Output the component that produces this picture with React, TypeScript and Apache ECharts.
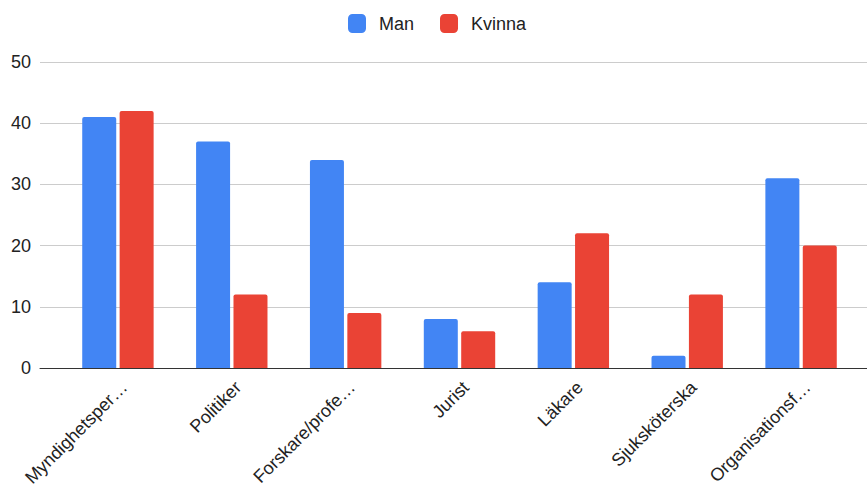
import React, { useEffect, useRef } from "react";
import * as echarts from "echarts";

const categories = [
  "Myndighetsper…",
  "Politiker",
  "Forskare/profe…",
  "Jurist",
  "Läkare",
  "Sjuksköterska",
  "Organisationsf…",
];
const seriesNames = ["Man", "Kvinna"];
const manValues = [41, 37, 34, 8, 14, 2, 31];
const kvinnaValues = [42, 12, 9, 6, 22, 12, 20];
const yTicks = { min: 0, max: 50, interval: 10 };

const FONT = "'Liberation Sans', Arial, sans-serif";

export default function App() {
  const ref = useRef<HTMLDivElement>(null);
  useEffect(() => {
    if (!ref.current) return;
    const chart = echarts.init(ref.current, undefined, { renderer: "svg" });
    const barStyle = (color: string) => ({
      color,
      borderRadius: [2, 2, 0, 0],
    });
    chart.setOption({
      animation: false,
      backgroundColor: "#ffffff",
      textStyle: { fontFamily: FONT },
      legend: {
        data: seriesNames,
        left: 343,
        top: 9,
        itemWidth: 18,
        itemHeight: 19,
        itemGap: 26,
        icon: "roundRect",
        textStyle: { fontSize: 18, color: "#222", fontFamily: FONT, padding: [0, 0, 0, 8] },
      },
      grid: [
        { left: 40, right: 0, top: 62, bottom: 117, outerBoundsMode: "none", containLabel: false },
        { left: 61, right: 9, top: 62, bottom: 117, outerBoundsMode: "none", containLabel: false },
      ],
      xAxis: [
        {
          gridIndex: 0,
          type: "value",
          min: 0,
          max: 1,
          axisLine: { show: true, onZero: false, lineStyle: { color: "#333", width: 1 } },
          axisTick: { show: false },
          axisLabel: { show: false },
          splitLine: { show: false },
        },
        {
          gridIndex: 1,
          type: "category",
          data: categories,
          axisLine: { show: false },
          axisTick: { show: false },
          axisLabel: {
            rotate: 45,
            interval: 0,
            margin: 10,
            verticalAlign: "top",
            fontSize: 18,
            color: "#222",
            fontFamily: FONT,
          },
        },
      ],
      yAxis: [
        {
          gridIndex: 0,
          type: "value",
          min: yTicks.min,
          max: yTicks.max,
          interval: yTicks.interval,
          axisLine: { show: false },
          axisTick: { show: false },
          axisLabel: { fontSize: 18, color: "#222", margin: 9, fontFamily: FONT },
          splitLine: { lineStyle: { color: "#cccccc", width: 1 } },
        },
        {
          gridIndex: 1,
          type: "value",
          min: yTicks.min,
          max: yTicks.max,
          interval: yTicks.interval,
          show: false,
          splitLine: { show: false },
        },
      ],
      series: [
        {
          name: seriesNames[0],
          type: "bar",
          xAxisIndex: 1,
          yAxisIndex: 1,
          data: manValues,
          barWidth: 34,
          barGap: "10%",
          itemStyle: barStyle("#4285f4"),
        },
        {
          name: seriesNames[1],
          type: "bar",
          xAxisIndex: 1,
          yAxisIndex: 1,
          data: kvinnaValues,
          barWidth: 34,
          barGap: "10%",
          itemStyle: barStyle("#ea4335"),
        },
      ],
    });
    return () => chart.dispose();
  }, []);
  return (
    <div
      ref={ref}
      style={{ position: "fixed", left: 0, top: 0, width: 867, height: 485 }}
    />
  );
}
